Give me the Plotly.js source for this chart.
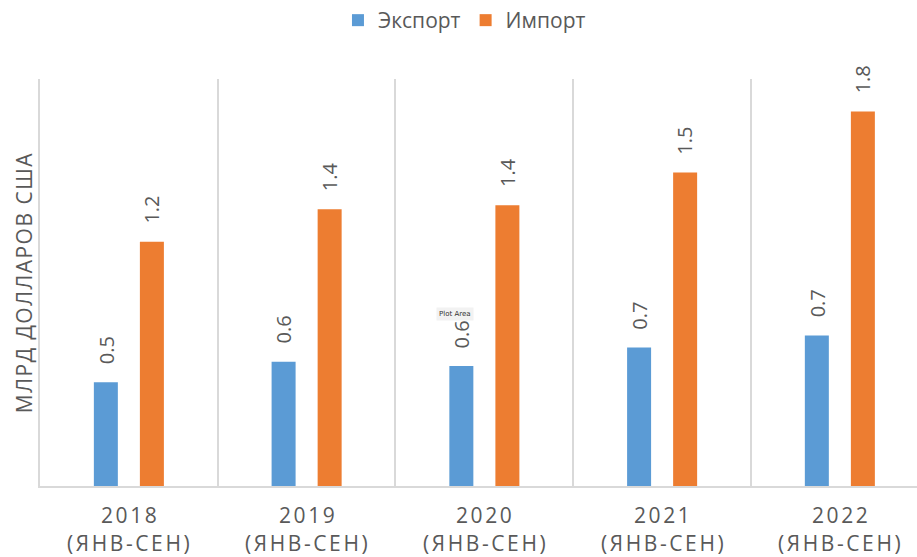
<!DOCTYPE html>
<html>
<head>
<meta charset="utf-8">
<script src="https://cdn.plot.ly/plotly-3.0.1.min.js"></script>
<style>
html,body{margin:0;padding:0;background:#fff;}
#chart .ytitle{letter-spacing:1.5px;}
</style>
</head>
<body>
<div id="chart" style="width:917px;height:557px;"></div>
<script>
const categories = ["2018", "2019", "2020", "2021", "2022"];
const tickYears = ["2018", "2019", "2020", "2021", "2022"];
const tickPeriods = ["(ЯНВ-СЕН)", "(ЯНВ-СЕН)", "(ЯНВ-СЕН)", "(ЯНВ-СЕН)", "(ЯНВ-СЕН)"];
const exportValues = [0.51, 0.61, 0.59, 0.68, 0.74];
const importValues = [1.20, 1.36, 1.38, 1.54, 1.84];
const exportLabels = ["0.5", "0.6", "0.6", "0.7", "0.7"];
const importLabels = ["1.2", "1.4", "1.4", "1.5", "1.8"];

const labelColor = "#595959";
const font = "Open Sans, Noto Sans, sans-serif";
const barWidth = 0.135;

const traces = [
  {type: "bar", name: "Экспорт", x: categories, y: exportValues,
   width: barWidth, offset: -0.197, marker: {color: "#5B9BD5"}, hoverinfo: "skip"},
  {type: "bar", name: "Импорт", x: categories, y: importValues,
   width: barWidth, offset: 0.062, marker: {color: "#ED7D31"}, hoverinfo: "skip"}
];

const annotations = [];
categories.forEach((c, i) => {
  annotations.push({x: i - 0.129, y: exportValues[i], xref: "x", yref: "y", text: exportLabels[i],
    textangle: -90, showarrow: false, xanchor: "center", yanchor: "bottom", yshift: 16,
    font: {family: font, size: 20, color: labelColor}});
  annotations.push({x: i + 0.129, y: importValues[i], xref: "x", yref: "y", text: importLabels[i],
    textangle: -90, showarrow: false, xanchor: "center", yanchor: "bottom", yshift: 16,
    font: {family: font, size: 20, color: labelColor}});
  // category labels (two lines, letter-spaced)
  annotations.push({x: i, y: 0, xref: "x", yref: "paper", showarrow: false,
    text: '<span style="letter-spacing:2.6px">' + tickYears[i] + '</span>',
    xanchor: "center", yanchor: "middle", yshift: -29, xshift: 1,
    font: {family: font, size: 21, color: labelColor}});
  annotations.push({x: i, y: 0, xref: "x", yref: "paper", showarrow: false,
    text: '<span style="letter-spacing:2.6px">' + tickPeriods[i] + '</span>',
    xanchor: "center", yanchor: "middle", yshift: -57, xshift: 1,
    font: {family: font, size: 21, color: labelColor}});
});
// "Plot Area" hover tip visible in the reference
const plotL = 40, plotR = 917, plotT = 79, plotB = 486;
annotations.push({x: (455 - plotL) / (plotR - plotL), y: (plotB - 314) / (plotB - plotT),
  xref: "paper", yref: "paper", text: "Plot Area", showarrow: false,
  font: {family: "DejaVu Sans, sans-serif", size: 7, color: "#333"}, bgcolor: "#f2f2f2", borderpad: 2});

const layout = {
  width: 917, height: 557,
  margin: {l: 40, r: 0, t: 79, b: 71, pad: 0},
  paper_bgcolor: "#fff", plot_bgcolor: "#fff",
  barmode: "overlay",
  showlegend: true,
  legend: {orientation: "h", x: 0.484, xanchor: "center", y: 1, yref: "container", yanchor: "top",
    font: {family: font, size: 21, color: labelColor}, itemwidth: 30, traceorder: "normal"},
  xaxis: {
    type: "category", range: [-0.5, 4.434],
    tickvals: categories, showticklabels: false,
    tickson: "boundaries", ticks: "", showgrid: true, gridcolor: "#d9d9d9", gridwidth: 2,
    showline: true, linecolor: "#d9d9d9", linewidth: 2,
    fixedrange: true
  },
  yaxis: {
    range: [0, 2], showticklabels: false, showgrid: false, zeroline: false,
    showline: true, linecolor: "#d9d9d9", linewidth: 2, ticks: "",
    title: {text: "МЛРД ДОЛЛАРОВ США", font: {family: font, size: 21, color: labelColor}, standoff: 0},
    fixedrange: true
  },
  annotations: annotations
};

Plotly.newPlot("chart", traces, layout, {displayModeBar: false, staticPlot: true});
</script>
</body>
</html>
